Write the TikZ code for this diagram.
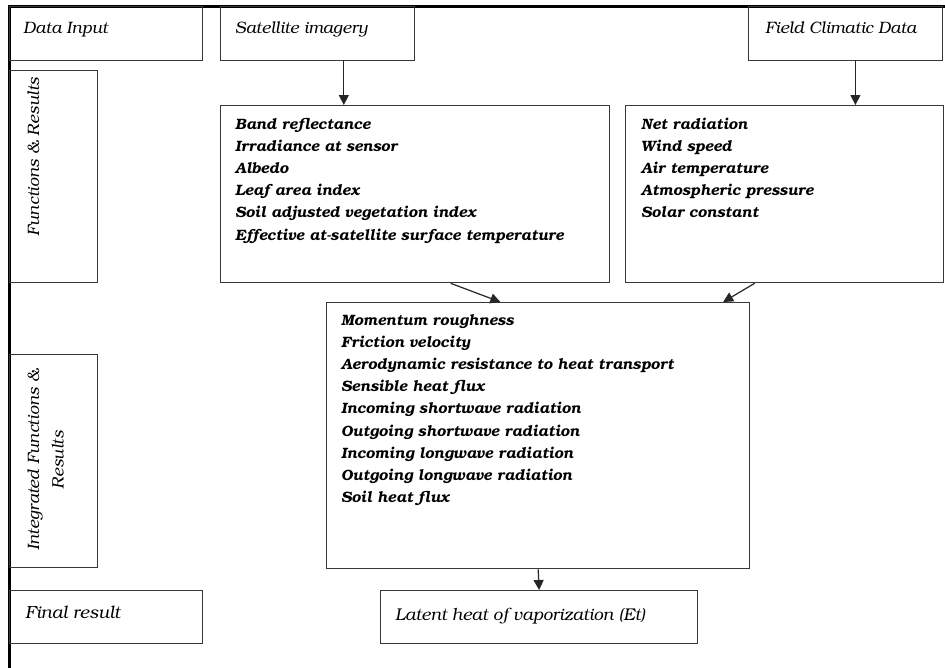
\documentclass[tikz,border=0pt]{standalone}
\usepackage[T1]{fontenc}
\usepackage{bookman}
\usetikzlibrary{arrows.meta,calc}
\newcommand\mylist[1]{\begin{tabular}[t]{@{}l@{}}#1\end{tabular}}
\begin{document}
\begin{tikzpicture}[x=1pt,y=-1pt,
  box/.style={draw=black!78, line width=1.3pt, rectangle, inner sep=0pt, anchor=north west},
  lst/.style={anchor=base west, inner sep=0pt,
    font=\fontsize{15}{22.2}\selectfont\bfseries\itshape},
  hdr/.style={anchor=base west, inner sep=0pt, font=\fontsize{16.5}{18}\selectfont\itshape},
  rot/.style={anchor=north, rotate=90, align=center, inner sep=0pt,
    font=\fontsize{16.5}{24.5}\selectfont\itshape},
  arr/.style={line width=1.2pt, draw=black!85, -{Triangle[length=10pt,width=10pt]}}]
\useasboundingbox (0,0) rectangle (945,667);
\fill[white] (0,0) rectangle (945,667);
% outer frame
\coordinate (ftl) at (9,6);
\coordinate (ftr) at (945,6);
\coordinate (fbl) at (9,667);
\draw[line width=3pt, line cap=rect] (ftr) -- (ftl) -- (fbl);
% boxes
\node[box, minimum width=193pt, minimum height=54pt] (din) at (9,6) {};
\node[box, minimum width=194pt, minimum height=54pt] (sat) at (220,6) {};
\node[box, minimum width=194pt, minimum height=54pt] (fld) at (748,6) {};
\node[box, minimum width=88pt, minimum height=212pt] (fr) at (9,70) {};
\node[box, minimum width=389pt, minimum height=177pt] (band) at (220,105) {};
\node[box, minimum width=318pt, minimum height=177pt] (net) at (625,105) {};
\node[box, minimum width=88pt, minimum height=213pt] (ifr) at (9,354) {};
\node[box, minimum width=423pt, minimum height=266pt] (mid) at (326,302) {};
\node[box, minimum width=193pt, minimum height=53pt] (fin) at (9,590) {};
\node[box, minimum width=317pt, minimum height=53pt] (lat) at (380,590) {};
% header texts
\node[hdr] (tdin) at (23,33) {Data Input};
\node[hdr] (tsat) at (235,33) {Satellite imagery};
\node[hdr] (tfld) at (765,33) {Field Climatic Data};
\node[hdr, font=\fontsize{17.5}{20}\selectfont\itshape] (tfin) at (25,618) {Final result};
\node[hdr, font=\fontsize{17}{20}\selectfont\itshape] (tlat) at (395,620) {Latent heat of vaporization (Et)};
% rotated texts
\node[rot] (tfr) at (27,157) {Functions \& Results};
\node[rot] (tifr) at (27,460) {Integrated Functions \&\\Results};
% lists
\node[lst] (lband) at (235,129) {\mylist{Band reflectance\\Irradiance at sensor\\Albedo\\Leaf area index\\Soil adjusted vegetation index\\Effective at-satellite surface temperature}};
\node[lst] (lnet) at (641,129) {\mylist{Net radiation\\Wind speed\\Air temperature\\Atmospheric pressure\\Solar constant}};
\node[lst] (lmid) at (341,325) {\mylist{Momentum roughness\\Friction velocity\\Aerodynamic resistance to heat transport\\Sensible heat flux\\Incoming shortwave radiation\\Outgoing shortwave radiation\\Incoming longwave radiation\\Outgoing longwave radiation\\Soil heat flux}};
% arrows
\coordinate (a1) at ($(sat.south west)!0.634!(sat.south east)$);
\draw[arr] (a1) -- (a1 |- band.north);
\coordinate (a2) at ($(fld.south west)!0.55!(fld.south east)$);
\draw[arr] (a2) -- (a2 |- net.north);
\draw[arr] ($(band.south west)!0.591!(band.south east)$) -- ($(mid.north west)!0.411!(mid.north east)$);
\draw[arr] ($(net.south west)!0.406!(net.south east)$) -- ($(mid.north west)!0.936!(mid.north east)$);
\draw[arr] (mid.south) -- (lat.north);
\end{tikzpicture}
\end{document}
